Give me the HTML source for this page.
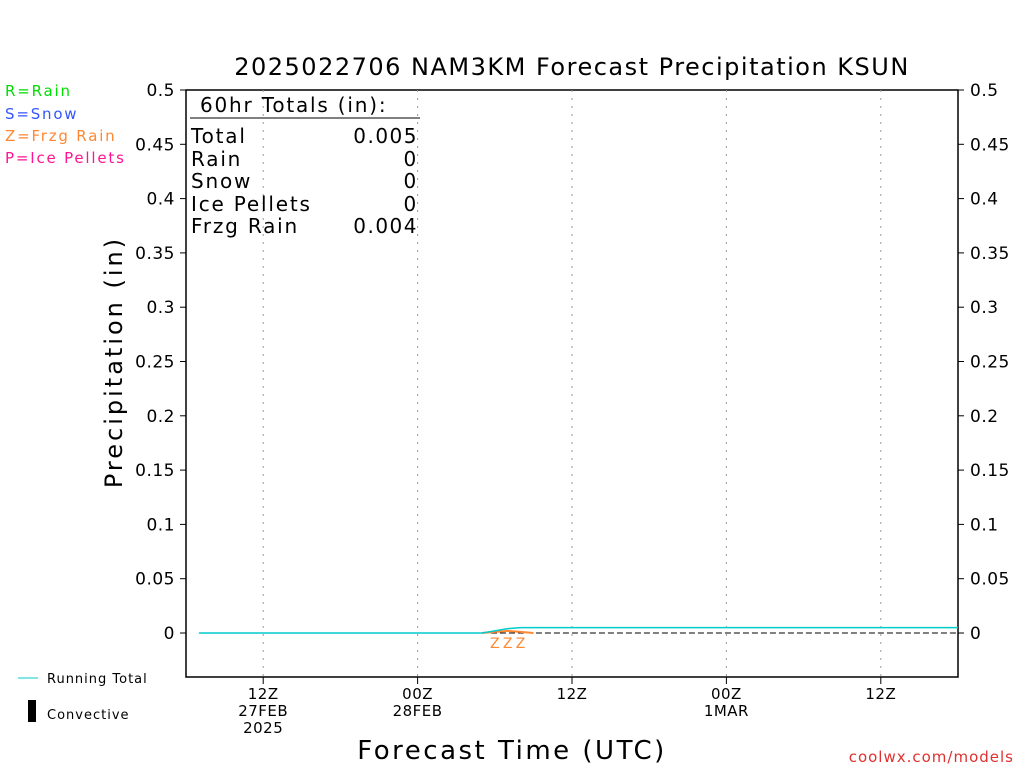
<!DOCTYPE html>
<html><head><meta charset="utf-8"><style>
body{margin:0;background:#fff;}
svg{display:block;font-family:"DejaVu Sans","Liberation Sans",sans-serif;}
</style></head><body>
<svg id="c" width="1024" height="768">
<text x="572" y="75" font-size="24" text-anchor="middle" letter-spacing="1.5">2025022706 NAM3KM Forecast Precipitation KSUN</text>
<g font-size="15" letter-spacing="1.8">
<text x="5" y="96" fill="#00dd00">R=Rain</text>
<text x="5" y="119" fill="#3355ff">S=Snow</text>
<text x="5" y="141" fill="#ff8833">Z=Frzg Rain</text>
<text x="5" y="163" fill="#ff1493">P=Ice Pellets</text>
</g>
<rect x="186" y="90" width="772" height="587" fill="none" stroke="#000" stroke-width="1.5"/>
<g id="grid"></g><g id="yt"></g><g id="xt"></g><g id="series"></g>
<text transform="translate(122,362) rotate(-90)" font-size="24" text-anchor="middle" letter-spacing="3">Precipitation (in)</text>
<text x="512" y="759" font-size="26" text-anchor="middle" letter-spacing="2.5">Forecast Time (UTC)</text>
<text x="1014" y="762" font-size="15" fill="#e03030" text-anchor="end" letter-spacing="1">coolwx.com/models</text>
<g font-size="20" letter-spacing="1.8">
<text x="200" y="112">60hr Totals (in):</text>
<line x1="190" y1="118" x2="420" y2="118" stroke="#000"/>
<text x="191" y="143">Total</text><text x="418" y="143" text-anchor="end" letter-spacing="1.5">0.005</text>
<text x="191" y="166">Rain</text><text x="418" y="166" text-anchor="end">0</text>
<text x="191" y="188">Snow</text><text x="418" y="188" text-anchor="end">0</text>
<text x="191" y="211">Ice Pellets</text><text x="418" y="211" text-anchor="end">0</text>
<text x="191" y="233">Frzg Rain</text><text x="418" y="233" text-anchor="end" letter-spacing="1.5">0.004</text>
</g>
<line x1="18" y1="678" x2="38" y2="678" stroke="#00cccc"/>
<text x="47" y="683" font-size="13" letter-spacing="1">Running Total</text>
<rect x="28" y="700" width="8" height="22" fill="#000"/>
<text x="47" y="719" font-size="13" letter-spacing="1">Convective</text>
</svg>
<script>
const yTicks=[0,0.05,0.1,0.15,0.2,0.25,0.3,0.35,0.4,0.45,0.5];
const xTickHours=[6,18,30,42,54];
const xTickLabels=["12Z\n27FEB\n2025","00Z\n28FEB","12Z","00Z\n1MAR","12Z"];
const runningTotal=[0,0,0,0,0,0,0,0,0,0,0,0,0,0,0,0,0,0,0,0,0,0,0,0.002,0.004,0.005,0.005,0.005,0.005,0.005,0.005,0.005,0.005,0.005,0.005,0.005,0.005,0.005,0.005,0.005,0.005,0.005,0.005,0.005,0.005,0.005,0.005,0.005,0.005,0.005,0.005,0.005,0.005,0.005,0.005,0.005,0.005,0.005,0.005,0.005];
const frzgHours=[24,25,26];
const frzgAmt=[0.001,0.002,0.001];
const NS="http://www.w3.org/2000/svg";
const X=h=>186+h*772/60, Y=v=>633-v*1086;
function mk(t,a,p){const e=document.createElementNS(NS,t);for(const k in a)e.setAttribute(k,a[k]);p.appendChild(e);return e;}
const g=document.getElementById('grid'),yt=document.getElementById('yt'),xt=document.getElementById('xt'),s=document.getElementById('series');
yTicks.forEach(v=>{
 const y=Y(v);
 const l=mk('line',{x1:180,x2:186,y1:y,y2:y,stroke:'#000'},yt);
 
 
 const r=mk('line',{x1:958,x2:964,y1:y,y2:y,stroke:'#000'},yt);
 
 
 const t=mk('text',{x:175,y:y+6,'font-size':17,'text-anchor':'end','letter-spacing':0.5},yt);t.textContent=v;
 
 
 const t2=mk('text',{x:970,y:y+6,'font-size':17,'letter-spacing':0.5},yt);t2.textContent=v;
 
 
});
xTickHours.forEach((h,i)=>{
 const x=X(h);
 const gl=mk('line',{x1:x,x2:x,y1:90,y2:677,stroke:'#999','stroke-dasharray':'2,6'},g);
 
 
 const tk=mk('line',{x1:x,x2:x,y1:677,y2:684,stroke:'#000'},xt);
 
 
 xTickLabels[i].split('\n').forEach((ln,j)=>{
  const t=mk('text',{x:x,y:699+j*17,'font-size':15,'text-anchor':'middle','letter-spacing':0.5},xt);t.textContent=ln;
  
  
 });
});
const z=mk('line',{x1:X(23),x2:958,y1:Y(0),y2:Y(0),stroke:'#000','stroke-dasharray':'6,3'},s);


const fp=mk('polyline',{fill:'none',stroke:'#ff8833','stroke-width':2,points:[[X(23),Y(0)],...frzgHours.map((h,i)=>[X(h),Y(frzgAmt[i])]),[X(27),Y(0)]].map(p=>p.join(',')).join(' ')},s);


frzgHours.forEach(h=>{
 const t=mk('text',{x:X(h),y:648,'font-size':14,fill:'#ff8833','text-anchor':'middle'},s);t.textContent='Z';
 
 
});
const rt=mk('polyline',{fill:'none',stroke:'#00cccc','stroke-width':1.5,points:runningTotal.map((v,i)=>X(i+1)+','+Y(v)).join(' ')},s);


</script>
</body></html>
